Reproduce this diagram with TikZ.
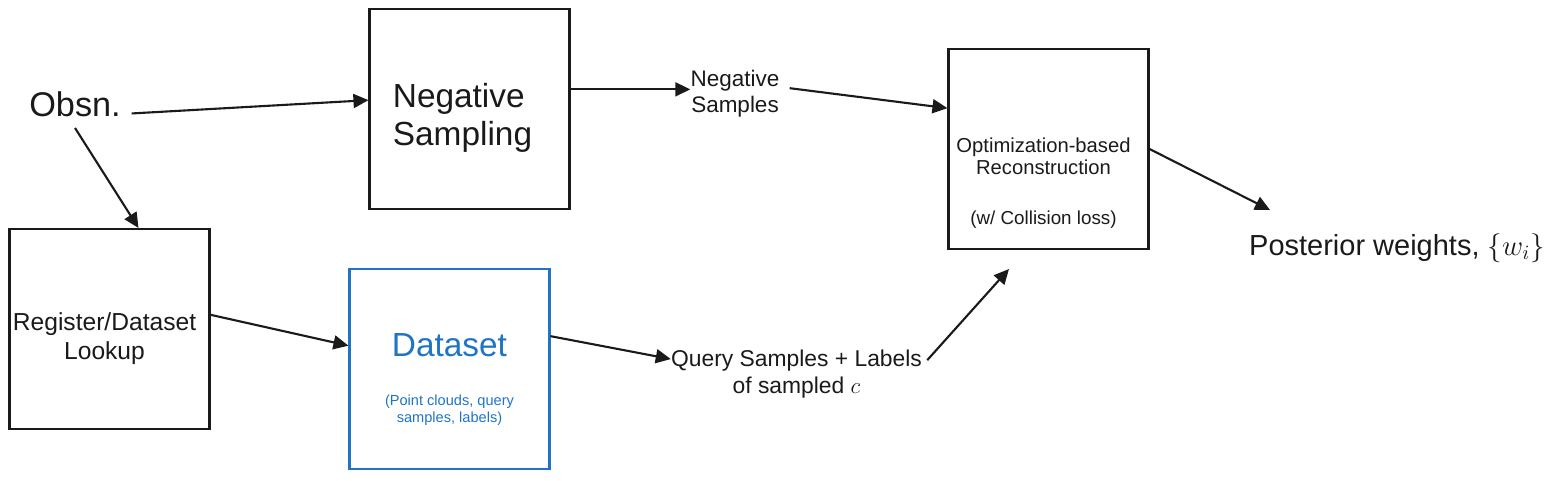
\documentclass[tikz,border=0pt]{standalone}
\usepackage{fix-cm}
\usepackage{fontspec}
\setmainfont{Liberation Sans}
\usetikzlibrary{arrows.meta}

\definecolor{ink}{RGB}{26,26,26}
\definecolor{dsblue}{RGB}{31,116,198}

\begin{document}
\begin{tikzpicture}[
  box/.style={draw=ink, line width=1.2pt, minimum width=4cm, minimum height=4cm, inner sep=0pt},
  txt/.style={text=ink, align=center, inner sep=0pt},
  arr/.style={draw=ink, line width=1.2pt, -{Triangle[length=0.3cm,width=0.28cm]}}
]
\useasboundingbox (0,0) rectangle (31.06,9.6);

% boxes
\node[box, label={[txt, font=\fontsize{19}{21.8}\selectfont, align=left, xshift=-0.14cm, yshift=-0.18cm]center:{Negative\\Sampling}}] (negsamp) at (9.39,7.42) {};
\node[box, label={[txt, font=\fontsize{14}{16.4}\selectfont, xshift=-0.1cm, yshift=-0.2cm]center:{Register/Dataset\\Lookup}}] (reg) at (2.19,3.02) {};
\node[box, draw=dsblue, label={[txt, text=dsblue, font=\fontsize{8.3}{9.6}\selectfont, yshift=-0.21cm]center:{{\fontsize{19}{21.8}\selectfont Dataset}\\[18.4pt](Point clouds, query\\samples, labels)}}] (dataset) at (8.99,2.22) {};
\node[box, label={[txt, font=\fontsize{11.5}{13}\selectfont, xshift=-0.1cm, yshift=-0.68cm]center:{Optimization-based\\Reconstruction\\[15.3pt]{\fontsize{10.7}{12.6}\selectfont (w/ Collision loss)}}}] (optim) at (20.97,6.62) {};

% free text
\node[txt, inner sep=0.21cm, font=\fontsize{19.5}{22}\selectfont] (obsn) at (1.5,7.51) {Obsn.};
\node[txt, font=\fontsize{12.8}{14.7}\selectfont] (negs) at (14.7,7.72) {Negative\\Samples};
\node[txt, font=\fontsize{13}{15.3}\selectfont] (query) at (15.93,2.11) {Query Samples + Labels\\of sampled $c$};
\node[txt, font=\fontsize{16.5}{19}\selectfont] (post) at (27.94,4.64) {Posterior weights, $\{w_i\}$};

\coordinate (qin) at (20.18,4.22);
\coordinate (pin) at (25.4,5.4);

\draw[arr] (obsn.-9) -- (negsamp.175);
\draw[arr] (obsn.south) -- (reg.74);
\draw[arr] (negsamp.11) -- (negsamp.11 -| negs.west);
\draw[arr, shorten <=0.2cm] (negs.9) -- (optim.158);
\draw[arr] (reg.8) -- (dataset.167);
\draw[arr] (dataset.18) -- (query.173);
\draw[arr, shorten <=0.15cm] (query.4) -- (qin);
\draw[arr] (optim.east) -- (pin);

\end{tikzpicture}
\end{document}
